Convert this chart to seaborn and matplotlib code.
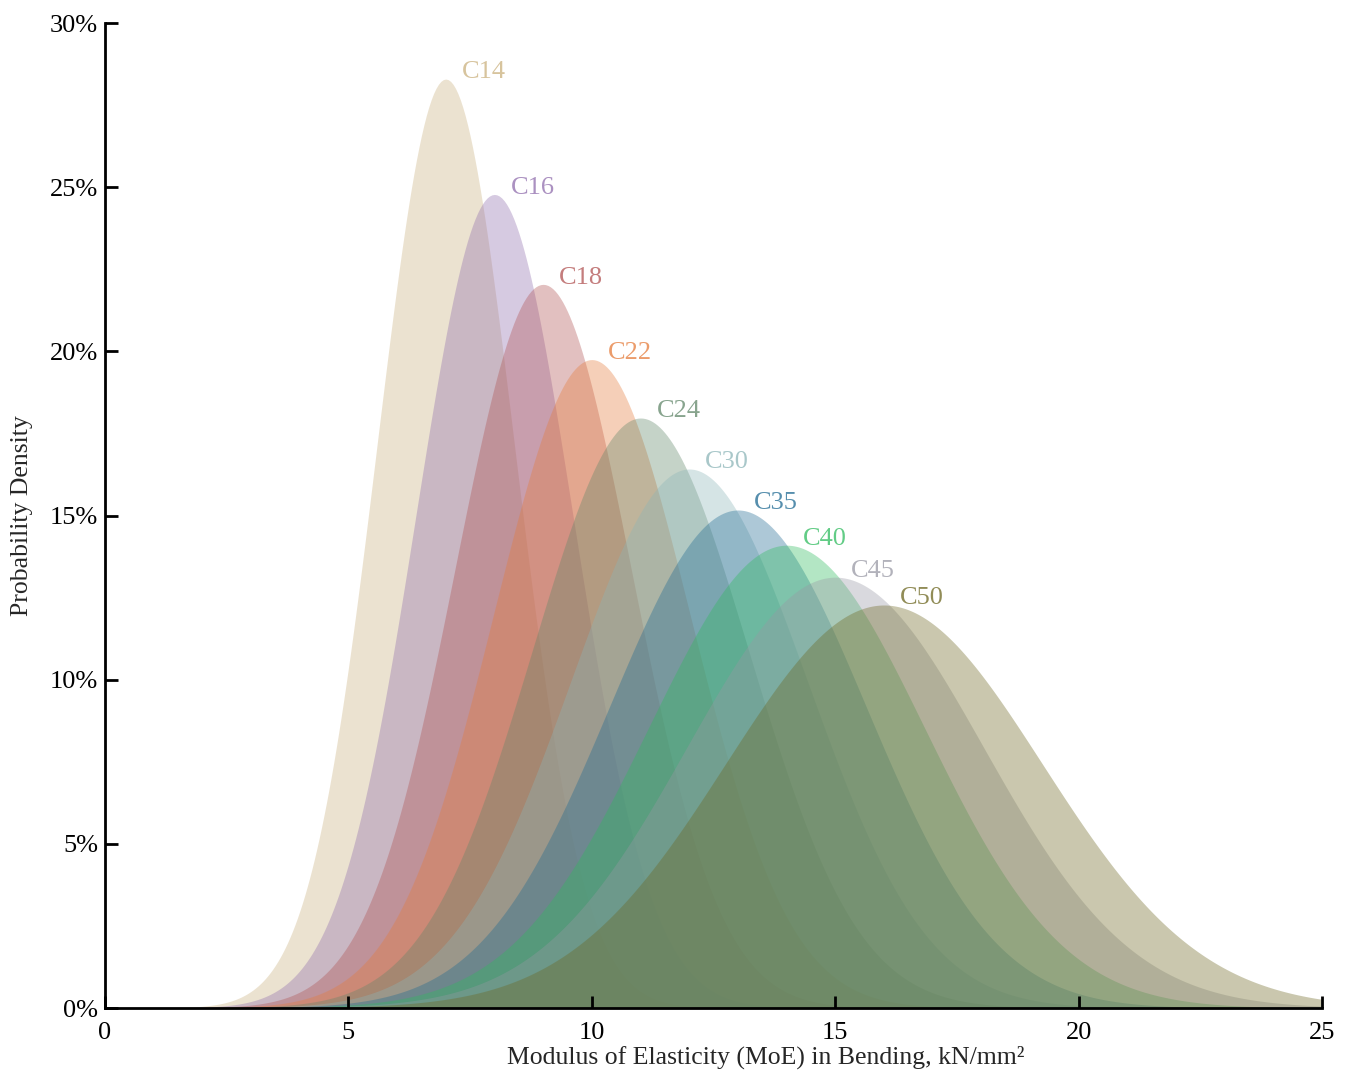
import numpy as np
import pandas as pd
import matplotlib.pyplot as plt
import seaborn as sns
from matplotlib.ticker import PercentFormatter

# --- Strength classes: mean MoE (kN/mm2) and standard deviation ---
grades = ["C14", "C16", "C18", "C22", "C24", "C30", "C35", "C40", "C45", "C50"]
mean_moe = [7, 8, 9, 10, 11, 12, 13, 14, 15, 16]
sd_moe = [1.41, 1.61, 1.81, 2.02, 2.22, 2.43, 2.63, 2.83, 3.04, 3.25]
colours = ["#cab07d", "#8f6cac", "#b05151", "#e57b3a", "#608669",
           "#8cb5b8", "#1d6992", "#2ebb5d", "#9898a4", "#6c661f"]

x_ticks = [0, 5, 10, 15, 20, 25]
y_ticks = [0, 5, 10, 15, 20, 25, 30]

# --- Density curves (normal pdf, in %) ---
grid = np.linspace(0, 25, 501)
rows = []
for g, m, s in zip(grades, mean_moe, sd_moe):
    dens = np.exp(-0.5 * ((grid - m) / s) ** 2) / (s * np.sqrt(2 * np.pi)) * 100
    rows.append(pd.DataFrame({"MoE": grid, "Density": dens, "Grade": g}))
df = pd.concat(rows, ignore_index=True)

sns.set_style("ticks")
plt.rcParams["font.family"] = ["Liberation Serif", "DejaVu Serif"]

fig = plt.figure(figsize=(13.49, 10.71), dpi=100)
ax = fig.add_axes([0.0778, 0.0588, 0.9022, 0.9197])

pal = dict(zip(grades, colours))
sns.lineplot(data=df, x="MoE", y="Density", hue="Grade", palette=pal,
             linewidth=0, legend=False, ax=ax)

for g, m in zip(grades, mean_moe):
    sub = df[df["Grade"] == g]
    ax.fill_between(sub["MoE"], 0, sub["Density"], color=pal[g], alpha=0.36, lw=0)
    peak = sub["Density"].max()
    ax.text(m + 0.33, peak + 0.2, g, color=pal[g], alpha=0.75, fontsize=19,
            ha="left", va="center")

ax.set_xlim(0, 25)
ax.set_ylim(0, 30)
ax.set_xticks(x_ticks)
ax.set_yticks(y_ticks)
ax.yaxis.set_major_formatter(PercentFormatter(decimals=0))
ax.set_axisbelow(False)
ax.tick_params(direction="in", length=9, width=2, labelsize=19, colors="black", pad=5)
ax.tick_params(axis="x", pad=10)
for side in ["left", "bottom"]:
    ax.spines[side].set_linewidth(2)
    ax.spines[side].set_color("black")
    ax.spines[side].set_zorder(5)
sns.despine(ax=ax)

ax.set_xlabel("Modulus of Elasticity (MoE) in Bending, kN/mm²", fontsize=18.5)
ax.xaxis.set_label_coords(0.543, -0.038)
ax.set_ylabel("Probability Density", fontsize=18.5, labelpad=12)

fig.savefig("out.png", dpi=100)
